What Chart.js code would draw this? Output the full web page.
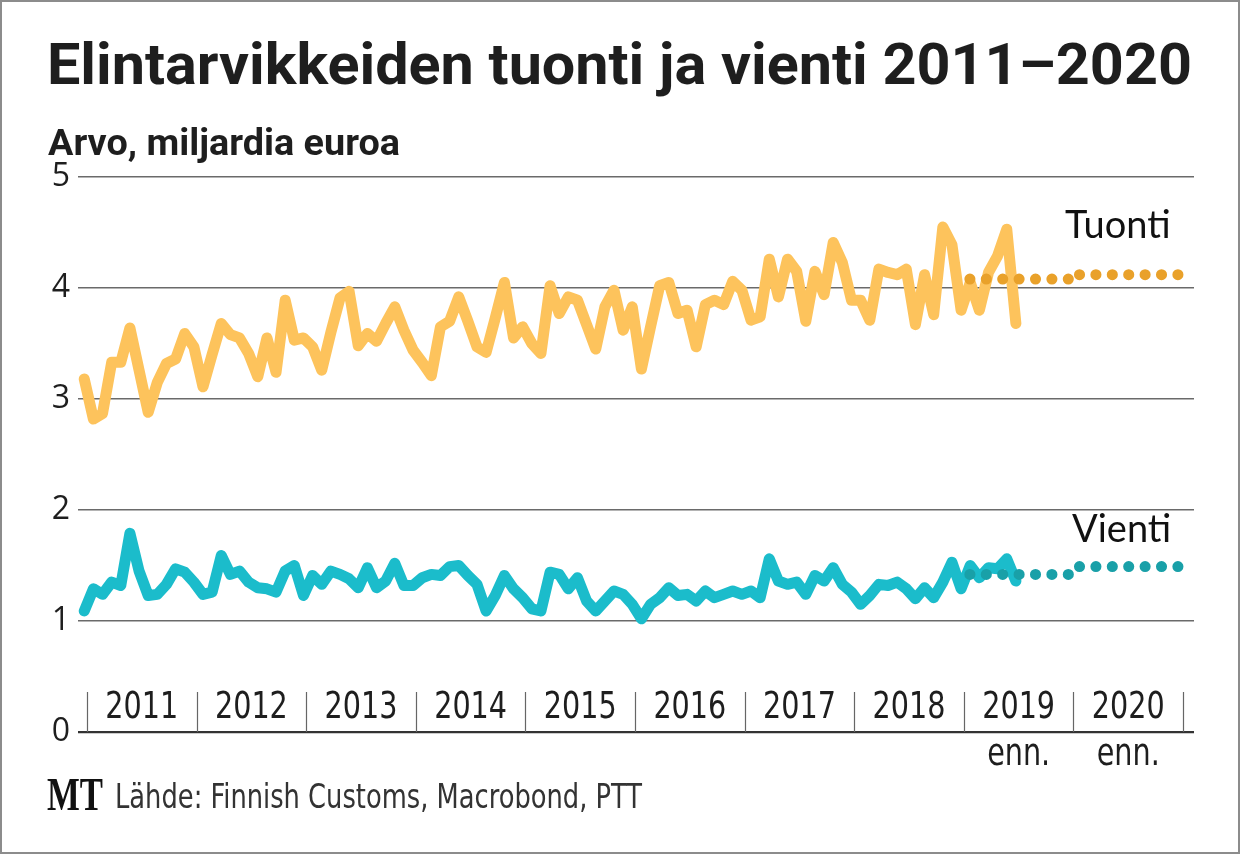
<!DOCTYPE html>
<html lang="fi">
<head>
<meta charset="utf-8">
<title>Elintarvikkeiden tuonti ja vienti 2011–2020</title>
<script src="https://cdn.jsdelivr.net/npm/chart.js@4.4.1/dist/chart.umd.min.js"></script>
<style>
  html, body { margin: 0; padding: 0; background: #fff; }
  #frame {
    position: relative; width: 1240px; height: 854px; box-sizing: border-box;
    border: 2px solid #8c8c8c; overflow: hidden; background: #fff;
  }
  #chart { position: absolute; left: 0; top: 0; }
  .txt { position: absolute; white-space: nowrap; transform-origin: 0 0; color: #1e1e1e; }
  #title { left: 45px; top: 28px; font: bold 58px Roboto, "Noto Sans", sans-serif; }
  #subtitle { left: 46px; top: 120px; font: bold 36px Roboto, "Noto Sans", sans-serif; }
  .series { font: 38px Lato, "Open Sans", sans-serif; color: #111; }
  #lblTuonti { left: 1063px; top: 198px; }
  #lblVienti { left: 1070px; top: 502px; }
  #logo { left: 45px; top: 766px; font: bold 46px "Liberation Serif", "DejaVu Serif", serif; color: #111; }
  #source { left: 113px; top: 775px; font: 33px "Liberation Sans Narrow", "DejaVu Sans Condensed", sans-serif; color: #333; }
</style>
</head>
<body>
<div id="frame">
  <canvas id="chart" width="1240" height="854"></canvas>
  <div class="txt" id="title" data-w="1145">Elintarvikkeiden tuonti ja vienti 2011–2020</div>
  <div class="txt" id="subtitle" data-w="352">Arvo, miljardia euroa</div>
  <div class="txt series" id="lblTuonti">Tuonti</div>
  <div class="txt series" id="lblVienti">Vienti</div>
  <div class="txt" id="logo" data-w="56">MT</div>
  <div class="txt" id="source" data-w="527">Lähde: Finnish Customs, Macrobond, PTT</div>
</div>
<script>
// Monthly values, Jan 2011 .. Jul 2019 (billion euro)
const tuonti = [
  3.18, 2.82, 2.87, 3.33, 3.33, 3.64, 3.26, 2.88, 3.15, 3.32, 3.36, 3.59,
  3.47, 3.11, 3.40, 3.68, 3.58, 3.55, 3.41, 3.20, 3.55, 3.24, 3.89, 3.53,
  3.55, 3.47, 3.26, 3.60, 3.91, 3.97, 3.48, 3.59, 3.52, 3.68, 3.83, 3.62,
  3.44, 3.33, 3.21, 3.65, 3.70, 3.92, 3.70, 3.47, 3.42, 3.73, 4.05, 3.55,
  3.65, 3.50, 3.41, 4.02, 3.77, 3.92, 3.89, 3.67, 3.45, 3.83, 3.98, 3.62,
  3.83, 3.27, 3.65, 4.02, 4.05, 3.77, 3.80, 3.47, 3.85, 3.89, 3.85, 4.06,
  3.98, 3.71, 3.74, 4.26, 3.92, 4.26, 4.15, 3.70, 4.15, 3.94, 4.41, 4.23,
  3.89, 3.89, 3.71, 4.17, 4.14, 4.12, 4.17, 3.67, 4.12, 3.76, 4.55, 4.39,
  3.80, 4.05, 3.80, 4.14, 4.29, 4.53, 3.68
];
const vienti = [
  1.09, 1.29, 1.24, 1.35, 1.32, 1.79, 1.45, 1.23, 1.24, 1.33, 1.47, 1.44,
  1.35, 1.24, 1.26, 1.59, 1.42, 1.45, 1.35, 1.30, 1.29, 1.26, 1.45, 1.50,
  1.23, 1.41, 1.33, 1.45, 1.42, 1.38, 1.30, 1.48, 1.30, 1.36, 1.52, 1.32,
  1.32, 1.39, 1.42, 1.41, 1.49, 1.50, 1.41, 1.33, 1.09, 1.23, 1.41, 1.29,
  1.21, 1.11, 1.09, 1.44, 1.42, 1.29, 1.39, 1.18, 1.09, 1.18, 1.27, 1.24,
  1.15, 1.02, 1.15, 1.21, 1.30, 1.23, 1.24, 1.18, 1.27, 1.21, 1.24, 1.27,
  1.24, 1.27, 1.21, 1.56, 1.36, 1.33, 1.35, 1.24, 1.41, 1.36, 1.48, 1.33,
  1.26, 1.15, 1.23, 1.33, 1.32, 1.35, 1.29, 1.20, 1.30, 1.21, 1.35, 1.53,
  1.29, 1.50, 1.39, 1.48, 1.47, 1.56, 1.36
];

// Forecasts (ennuste), one annual level per year
const forecastYears = [2019, 2020];
const tuontiForecast = [4.08, 4.12];
const vientiForecast = [1.42, 1.49];

const years = [2011, 2012, 2013, 2014, 2015, 2016, 2017, 2018, 2019, 2020];
const yTicks = [0, 1, 2, 3, 4, 5];

const C_TUONTI = '#fdc35c';
const C_TUONTI_F = '#e9a12a';
const C_VIENTI = '#1bbccb';
const C_VIENTI_F = '#19a0a8';

const monthX = i => years[0] + (i - 0.3) / 12;
const toPoints = arr => arr.map((v, i) => ({ x: monthX(i), y: v }));

function forecastPoints(vals) {
    // one dotted segment per forecast year, broken between years
    const pts = [];
    forecastYears.forEach((yr, k) => {
        if (k > 0) pts.push({ x: yr, y: null });
        pts.push({ x: yr + 0.055, y: vals[k] });
        pts.push({ x: yr + 0.967, y: vals[k] });
    });
    return pts;
}

const solid = (data, color) => ({
    data, borderColor: color, borderWidth: 11, pointRadius: 0, tension: 0,
    borderJoinStyle: 'round', borderCapStyle: 'round', order: 2
});
const dotted = (data, color) => ({
    data, borderColor: color, borderWidth: 11, pointRadius: 0, spanGaps: false,
    borderDash: [0.1, 16.3], borderCapStyle: 'round', order: 1
});

// Year separators + labels sit inside the plot, just above the zero line
const yearBand = {
    id: 'yearBand',
    afterDatasetsDraw(chart) {
        const { ctx, scales: { x, y } } = chart;
        const base = y.getPixelForValue(0);
        ctx.save();
        ctx.beginPath();
        ctx.strokeStyle = '#666';
        ctx.lineWidth = 1.2;
        for (let yr = years[0]; yr <= years[years.length - 1] + 1; yr++) {
            const px = Math.round(x.getPixelForValue(yr)) + 0.5;
            ctx.moveTo(px, base - 40);
            ctx.lineTo(px, base);
        }
        ctx.stroke();
        ctx.fillStyle = '#1e1e1e';
        ctx.textAlign = 'center';
        ctx.textBaseline = 'middle';
        ctx.font = '37px "Liberation Sans Narrow", "DejaVu Sans Condensed", sans-serif';
        const label = (s, cx, cy) => {
            ctx.save();
            ctx.translate(cx, cy);
            ctx.scale(0.86, 1);
            ctx.fillText(s, 0, 0);
            ctx.restore();
        };
        years.forEach(yr => {
            const cx = x.getPixelForValue(yr + 0.5);
            label(String(yr), cx, base - 24);
            if (forecastYears.includes(yr)) label('enn.', cx, base + 23);
        });
        ctx.restore();
    }
};

new Chart(document.getElementById('chart'), {
    type: 'line',
    data: {
        datasets: [
            solid(toPoints(tuonti), C_TUONTI),
            solid(toPoints(vienti), C_VIENTI),
            dotted(forecastPoints(tuontiForecast), C_TUONTI_F),
            dotted(forecastPoints(vientiForecast), C_VIENTI_F)
        ]
    },
    options: {
        responsive: false,
        animation: false,
        devicePixelRatio: 1,
        layout: { padding: { left: 0, right: 48, top: 175, bottom: 124 } },
        plugins: { legend: { display: false }, tooltip: { enabled: false } },
        scales: {
            x: {
                type: 'linear', display: false,
                min: 2010.918, max: 2021.1
            },
            y: {
                min: 0, max: 5,
                afterFit: s => { s.width = 76; },
                afterBuildTicks: s => { s.ticks = yTicks.map(v => ({ value: v })); },
                border: { display: false },
                grid: {
                    drawTicks: false,
                    color: ctx => ctx.tick && ctx.tick.value === 0 ? '#333' : '#6a6a6a',
                    lineWidth: ctx => ctx.tick && ctx.tick.value === 0 ? 2.2 : 1.4
                },
                ticks: {
                    padding: 8, color: '#1e1e1e',
                    font: { family: '"Open Sans", sans-serif', size: 32 }
                }
            }
        }
    },
    plugins: [yearBand]
});

// squeeze headline texts horizontally to the reference widths
document.querySelectorAll('.txt[data-w]').forEach(el => {
    const w = el.getBoundingClientRect().width;
    el.style.transform = `scaleX(${(+el.dataset.w / w).toFixed(4)})`;
});
</script>
</body>
</html>
